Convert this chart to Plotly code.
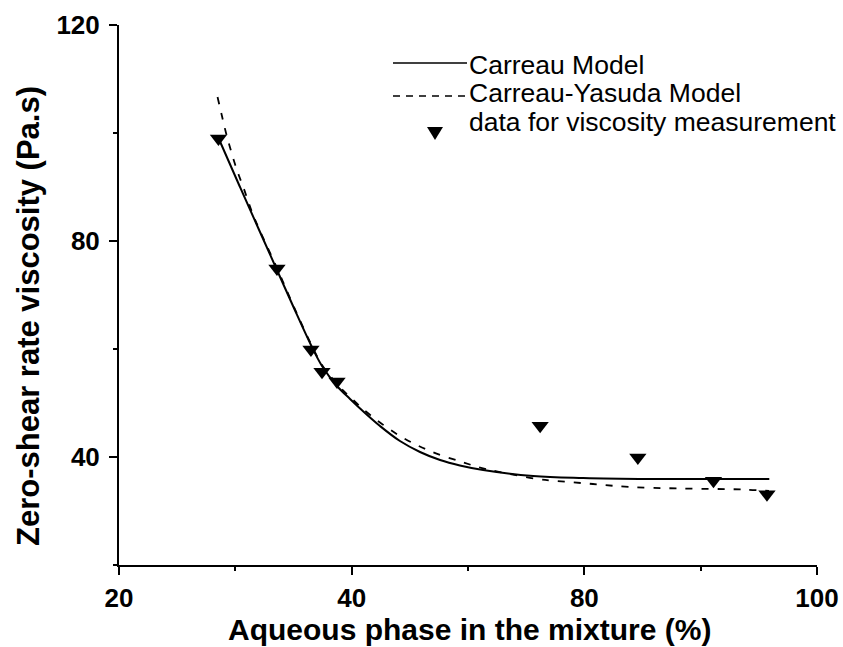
import numpy as np
import plotly.graph_objects as go

# Axis labelling: four evenly spaced major ticks carry the labels below
X_TICK_LABELS = ["20", "40", "80", "100"]
X_TICK_PCT = [20, 40, 80, 100]
X_TICK_POS = [0, 1, 2, 3]
Y_MAJOR = [40, 80, 120]
Y_MINOR = [20, 60, 100]

# Measured zero-shear viscosity vs aqueous phase fraction
meas_pct = [28.55, 33.58, 36.5, 37.45, 38.74, 72.4, 84.6, 91.1, 95.7]
meas_visc = [99.0, 74.9, 59.9, 55.8, 54.0, 45.8, 39.9, 35.6, 33.1]

# Carreau model fit
carreau_pct = [28.55, 30.40, 32.12, 33.58, 34.96, 36.50, 37.45, 38.74, 39.86,
               42.29, 44.87, 48.30, 51.75, 55.20, 58.60, 62.60, 71.20, 79.80,
               85.60, 95.90]
carreau_visc = [99.07, 90.00, 81.67, 74.63, 67.96, 60.74, 56.85, 53.15, 50.74,
                48.15, 45.74, 42.96, 40.93, 39.44, 38.43, 37.59, 36.48, 36.11,
                35.93, 35.93]

# Carreau-Yasuda model fit
cy_pct = [28.47, 28.85, 29.20, 29.63, 30.14, 30.74, 31.43, 32.12, 33.58,
          34.96, 36.50, 37.45, 38.74, 39.86, 42.98, 48.30, 53.47, 58.97,
          62.41, 65.50, 71.86, 75.30, 80.74, 83.93, 88.22, 93.64, 95.87]
cy_visc = [106.67, 103.15, 100.00, 96.67, 93.15, 89.63, 85.37, 81.85, 75.00,
           68.15, 60.93, 57.04, 53.52, 51.11, 47.96, 43.89, 41.11, 39.07,
           37.96, 37.22, 35.93, 35.56, 35.00, 34.44, 34.17, 33.98, 33.70]

LEGEND_LABELS = ["Carreau Model", "Carreau-Yasuda Model",
                 "data for viscosity measurement"]


def to_axis(pct):
    """Place percentages on the evenly spaced labelled axis."""
    return np.interp(pct, X_TICK_PCT, X_TICK_POS)


FONT = "Liberation Sans, Arial, sans-serif"
W, H = 843, 647
ML, MR, MT, MB = 119, 26, 25, 82
PW, PH = W - ML - MR, H - MT - MB


def px(x):
    return (x - ML) / PW


def py(y):
    return (H - MB - y) / PH


fig = go.Figure()
fig.add_trace(go.Scatter(
    x=to_axis(carreau_pct), y=carreau_visc, mode="lines",
    name=LEGEND_LABELS[0], line=dict(color="black", width=2),
    line_shape="spline", showlegend=False))
fig.add_trace(go.Scatter(
    x=to_axis(cy_pct), y=cy_visc, mode="lines",
    name=LEGEND_LABELS[1], line=dict(color="black", width=1.8, dash="7px,9px"),
    line_shape="spline", showlegend=False))
fig.add_trace(go.Scatter(
    x=to_axis(meas_pct), y=meas_visc, mode="markers",
    name=LEGEND_LABELS[2],
    marker=dict(symbol="triangle-down", size=15, color="black"),
    showlegend=False))

# Hand-drawn key in the upper right
shapes = [
    dict(type="line", xref="paper", yref="paper", x0=px(393), x1=px(467),
         y0=py(63), y1=py(63), line=dict(color="black", width=1.5)),
    dict(type="line", xref="paper", yref="paper", x0=px(393), x1=px(467),
         y0=py(96), y1=py(96), line=dict(color="black", width=1.5, dash="7px,6px")),
    dict(type="path", xref="paper", yref="paper",
         xsizemode="pixel", ysizemode="pixel",
         xanchor=px(435), yanchor=py(132),
         path="M-8,5 L8,5 L0,-8 Z",
         fillcolor="black", line=dict(color="black", width=0)),
]
annotations = []
for label, yc in zip(LEGEND_LABELS, [64.5, 93, 121.5]):
    annotations.append(dict(
        text=label, xref="paper", yref="paper", x=px(467), y=py(yc),
        xanchor="left", yanchor="middle", showarrow=False,
        font=dict(family=FONT, size=26.5, color="black")))

annotations.append(dict(
    text="Aqueous phase in the mixture (%)", xref="paper", yref="paper",
    x=px(469), y=py(629), xanchor="center", yanchor="middle", showarrow=False,
    font=dict(family=FONT, size=30, color="black", weight="bold")))
annotations.append(dict(
    text="Zero-shear rate viscosity (Pa.s)", xref="paper", yref="paper",
    x=px(28), y=py(316), xanchor="center", yanchor="middle", showarrow=False,
    textangle=-90,
    font=dict(family=FONT, size=31, color="black", weight="bold")))

tickfont = dict(family=FONT, size=26, color="black", weight="bold")
fig.update_layout(
    width=W, height=H,
    margin=dict(l=ML, r=MR, t=MT, b=MB, pad=0, autoexpand=False),
    paper_bgcolor="white", plot_bgcolor="white",
    shapes=shapes, annotations=annotations,
    xaxis=dict(
        range=[0, 3], tickvals=X_TICK_POS, ticktext=X_TICK_LABELS,
        ticks="outside", ticklen=8, tickwidth=2, tickcolor="black",
        showline=True, linewidth=2, linecolor="black", automargin=False,
        showgrid=False, zeroline=False, tickfont=tickfont,
        ticklabelstandoff=1,
        minor=dict(tickvals=[0.5, 1.5, 2.5], ticks="outside", ticklen=4,
                   tickwidth=2, tickcolor="black", showgrid=False)),
    yaxis=dict(
        range=[20, 120], tickvals=Y_MAJOR,
        ticks="outside", ticklen=8, tickwidth=2, tickcolor="black",
        showline=True, linewidth=2, linecolor="black", automargin=False,
        showgrid=False, zeroline=False, tickfont=tickfont,
        ticklabelstandoff=4,
        minor=dict(tickvals=Y_MINOR, ticks="outside", ticklen=4,
                   tickwidth=2, tickcolor="black", showgrid=False)),
)

fig.write_html("out.html")
